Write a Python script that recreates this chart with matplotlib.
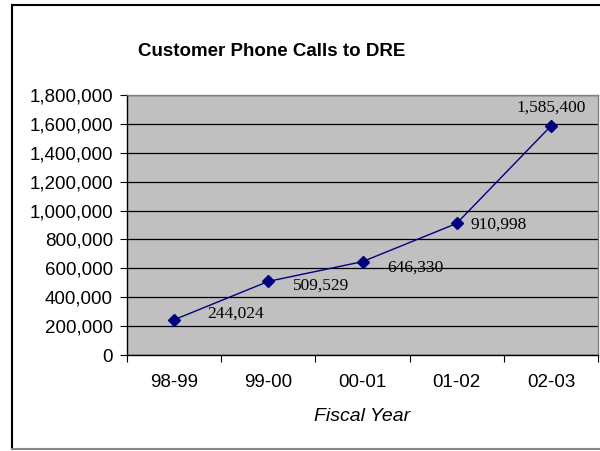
import matplotlib
matplotlib.use("Agg")
import matplotlib.pyplot as plt
from matplotlib.lines import Line2D
from matplotlib.ticker import FuncFormatter, FixedLocator

categories = ["98-99", "99-00", "00-01", "01-02", "02-03"]
calls = [244024, 509529, 646330, 910998, 1585400]
yticks = [0, 200000, 400000, 600000, 800000, 1000000, 1200000, 1400000, 1600000, 1800000]

W, H = 600, 451
fig = plt.figure(figsize=(6, 4.51), dpi=100)
fig.patch.set_facecolor("white")

# outer chart border
fig.add_artist(Line2D([12/W, 12/W], [2/H, 446/H], color="black", lw=1.5, transform=fig.transFigure))
fig.add_artist(Line2D([12/W, 1.0], [446/H, 446/H], color="black", lw=1.5, transform=fig.transFigure))
fig.add_artist(Line2D([12/W, 1.0], [2/H, 2/H], color="#888888", lw=1.5, transform=fig.transFigure))

ax = fig.add_axes([127/W, (H-355)/H, (598-127)/W, (355-95)/H])
ax.set_facecolor("#c0c0c0")
x = list(range(len(categories)))
ax.set_xlim(-0.5, len(categories)-0.5)
ax.set_ylim(0, 1800000)

ax.yaxis.set_major_locator(FixedLocator(yticks))
ax.yaxis.set_major_formatter(FuncFormatter(lambda v, p: f"{int(v):,}"))
ax.grid(axis="y", color="black", lw=0.9)
ax.set_axisbelow(True)

ax.set_xticks([i - 0.5 for i in range(len(categories)+1)])
ax.set_xticklabels([])
ax.set_xticks(x, minor=True)
ax.set_xticklabels(categories, minor=True)
ax.tick_params(axis="x", which="minor", length=0, pad=14, labelsize=13.5)
ax.tick_params(axis="x", which="major", direction="out", length=5, color="black")
ax.tick_params(axis="y", direction="out", length=5, pad=5, labelsize=13.5, color="black")
for lab in ax.get_yticklabels() + ax.get_xticklabels(minor=True):
    lab.set_fontfamily("Liberation Sans")

for s in ["left", "bottom"]:
    ax.spines[s].set_color("black")
    ax.spines[s].set_linewidth(1.0)
for s in ["top", "right"]:
    ax.spines[s].set_color("#808080")
    ax.spines[s].set_linewidth(1.0)

ax.plot(x, calls, color="#000080", lw=1.0, marker="D", markersize=6.5,
        markerfacecolor="#000080", markeredgecolor="#000080", zorder=3)

offsets = [(33, 6, "left"), (25, -4, "left"), (25, -6, "left"), (14, -1, "left"), (0, 18, "center")]
for xi, v, (dx, dy, ha) in zip(x, calls, offsets):
    ax.annotate(f"{v:,}", (xi, v), xytext=(dx * 0.72, dy * 0.72), textcoords="offset points",
                ha=ha, va="center", fontsize=12.5, fontfamily="Liberation Serif", color="black")

fig.text(272/W, 1 - 52/H, "Customer Phone Calls to DRE", ha="center", va="center",
         fontsize=13.5, fontweight="bold", fontfamily="Liberation Sans")
ax.set_xlabel("Fiscal Year", fontsize=14, fontstyle="italic", fontfamily="Liberation Sans", labelpad=12)

fig.savefig("out.png", dpi=100)
